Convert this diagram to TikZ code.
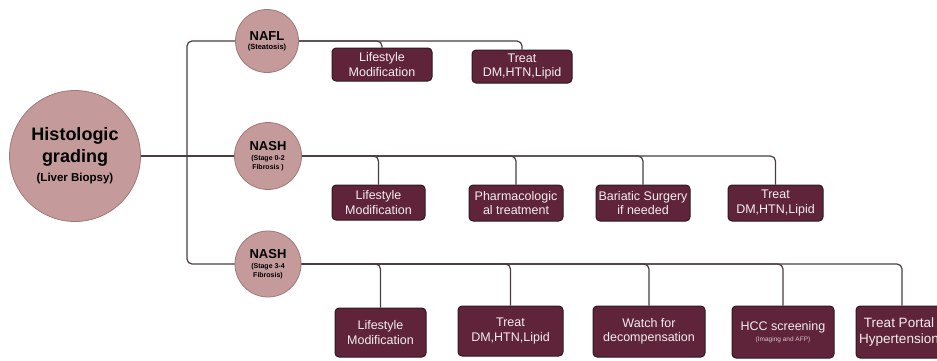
\documentclass[tikz,border=0pt]{standalone}
\usepackage{fontspec}
\setmainfont{Liberation Sans}
\usetikzlibrary{backgrounds}

\definecolor{rosefill}{HTML}{C49A9A}
\definecolor{roseline}{HTML}{A27777}
\definecolor{boxfill}{HTML}{5F2439}
\definecolor{boxline}{HTML}{2E1A20}
\definecolor{wirecol}{HTML}{4A3C41}
\definecolor{boxtext}{HTML}{F4EEEF}
\definecolor{subtext}{HTML}{D9C6CC}

\begin{document}
\begin{tikzpicture}[x=1pt,y=-1pt,
  grade/.style={circle,fill=rosefill,draw=roseline,line width=0.8pt,
    inner sep=0pt,minimum size=#1,align=center},
  grade/.default=66pt,
  care/.style={rectangle,rounded corners=4pt,fill=boxfill,draw=boxline,
    line width=1pt,text=boxtext,align=center,inner sep=0pt,
    font=\fontsize{12.5}{14.5}\selectfont},
  wire/.style={draw=wirecol,line width=1.2pt,rounded corners=5pt}]

\useasboundingbox (0,0) rectangle (937,360);
\clip (0,0) rectangle (937,360);

% grading circles
\node[grade=131pt,font=\bfseries\fontsize{18}{22}\selectfont] (hist) at (75,156)
  {Histologic\\grading\\[-3pt]\fontsize{11.5}{13}\selectfont(Liver Biopsy)};
\node[grade=63pt,font=\bfseries\fontsize{13}{9}\selectfont] (nafl) at (267,41)
  {NAFL\\\fontsize{7.5}{9}\selectfont(Steatosis)};
\node[grade=67pt,font=\bfseries\fontsize{13}{9.5}\selectfont] (nash1) at (268,156)
  {NASH\\[0.5pt]\fontsize{7}{9}\selectfont(Stage 0-2\\\fontsize{7}{9}\selectfont Fibrosis )};
\node[grade=66pt,font=\bfseries\fontsize{13}{9.5}\selectfont] (nash2) at (268,264)
  {NASH\\[0.5pt]\fontsize{7}{9}\selectfont(Stage 3-4\\\fontsize{7}{9}\selectfont Fibrosis)};

% management boxes: NAFL
\node[care,minimum width=100pt,minimum height=33pt] (b11) at (382,64.5) {Lifestyle\\Modification};
\node[care,minimum width=100pt,minimum height=33pt] (b12) at (522,66.5) {Treat\\DM,HTN,Lipid};

% management boxes: NASH stage 0-2
\node[care,minimum width=93pt,minimum height=35pt] (b21) at (378.5,202.5) {Lifestyle\\Modification};
\node[care,minimum width=94pt,minimum height=36pt] (b22) at (516,203) {Pharmacologic\\al treatment};
\node[care,minimum width=94pt,minimum height=36pt] (b23) at (643,203) {Bariatic Surgery\\if needed};
\node[care,minimum width=95pt,minimum height=36pt] (b24) at (775.5,203) {Treat\\DM,HTN,Lipid};

% management boxes: NASH stage 3-4
\node[care,minimum width=91pt,minimum height=49pt] (b31) at (380.5,332.5) {Lifestyle\\Modification};
\node[care,minimum width=105pt,minimum height=50pt] (b32) at (510.5,331) {Treat\\DM,HTN,Lipid};
\node[care,minimum width=112pt,minimum height=51pt] (b33) at (649,331.5) {Watch for\\decompensation};
\node[care,minimum width=102pt,minimum height=52pt] (b34) at (783,332)
  {HCC screening\\[-4pt]{\color{subtext}\fontsize{6.5}{7}\selectfont(Imaging and AFP)}};
\node[care,minimum width=86pt,minimum height=52pt,font=\fontsize{13.5}{15.5}\selectfont] (b35) at (899,332)
  {Treat Portal\\Hypertension};

% connectors, kept behind the shapes
\begin{scope}[on background layer]
  \coordinate (trunk) at (187,156);
  \draw[wire] (hist.east) -- (trunk);
  \draw[wire] (trunk) |- (nafl.center);
  \draw[wire] (trunk) -- (nash1.center);
  \draw[wire] (trunk) |- (nash2.center);

  \draw[wire] (nafl.center) -| (b11.north);
  \draw[wire] (nafl.center) -| (b12.north);

  \draw[wire] (nash1.center) -| (b21.north);
  \draw[wire] (nash1.center) -| (b22.north);
  \draw[wire] (nash1.center) -| (b23.north);
  \draw[wire] (nash1.center) -| (b24.north);

  \draw[wire] (nash2.center) -| (b31.north);
  \draw[wire] (nash2.center) -| (b32.north);
  \draw[wire] (nash2.center) -| (b33.north);
  \draw[wire] (nash2.center) -| (b34.north);
  \draw[wire] (nash2.center) -| ([xshift=3pt]b35.north);
\end{scope}
\end{tikzpicture}
\end{document}
